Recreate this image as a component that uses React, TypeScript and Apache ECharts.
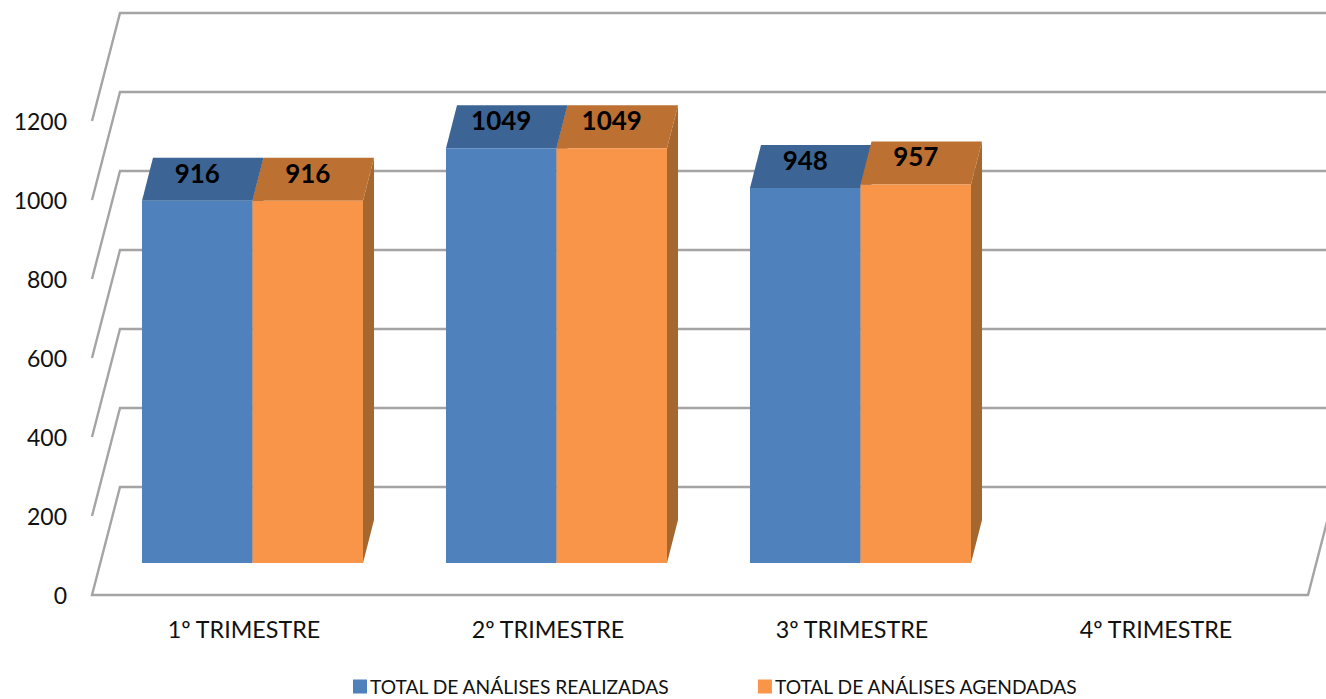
import React, { useEffect, useRef } from "react";
import * as echarts from "echarts";

const categories = ["1º TRIMESTRE", "2º TRIMESTRE", "3º TRIMESTRE", "4º TRIMESTRE"];
const realizadas = [916, 1049, 948, null];
const agendadas = [916, 1049, 957, null];
const wallTicks = [0, 200, 400, 600, 800, 1000, 1200];
const FONT = "Lato";

const DEPTH_X = 28, DEPTH_Y = 108;
const BAR_SHIFT_X = 8.5, BAR_SHIFT_Y = 32;
const BAR_W = 110.5, TOP_X = 11, TOP_Y = 43;

function renderWall(params: any, api: any) {
  const v = api.value(1);
  const cs = params.coordSys;
  const y = api.coord([0, v])[1];
  const left = cs.x, right = cs.x + cs.width;
  const points = v === 0
    ? [[right + DEPTH_X, y - DEPTH_Y], [left + DEPTH_X, y - DEPTH_Y], [left, y], [right, y], [right + DEPTH_X, y - DEPTH_Y]]
    : [[right + DEPTH_X, y - DEPTH_Y], [left + DEPTH_X, y - DEPTH_Y], [left, y]];
  return {
    type: "polyline",
    shape: { points },
    style: { stroke: "#A4A4A4", lineWidth: 2.4, fill: "none" },
  };
}

function makeBar(offset: number, front: string, top: string, side: string) {
  return (params: any, api: any) => {
    const v = api.value(1);
    if (v == null || isNaN(v)) return null;
    const [cx, yt] = api.coord([api.value(0), v]);
    const [, yb] = api.coord([api.value(0), 0]);
    const x0 = cx + BAR_SHIFT_X + offset * BAR_W;
    const x1 = x0 + BAR_W;
    const t = yt - BAR_SHIFT_Y - 0.5;
    const b = yb - BAR_SHIFT_Y;
    return {
      type: "group",
      children: [
        { type: "polygon", shape: { points: [[x1, t], [x1 + TOP_X, t - TOP_Y], [x1 + TOP_X, b - TOP_Y], [x1, b]] }, style: { fill: side } },
        { type: "polygon", shape: { points: [[x0, t], [x0 + TOP_X, t - TOP_Y], [x1 + TOP_X, t - TOP_Y], [x1, t]] }, style: { fill: top } },
        { type: "rect", shape: { x: x0, y: t, width: BAR_W, height: b - t }, style: { fill: front } },
        {
          type: "text",
          style: {
            text: String(v), x: (x0 + x1) / 2, y: t - 28, align: "center", verticalAlign: "middle",
            fill: "#000", fontFamily: FONT, fontWeight: "bold", fontSize: 26,
          },
        },
      ],
    };
  };
}

const toData = (values: (number | null)[]) => values.map((v, i) => [i, v]);

export default function App() {
  const ref = useRef<HTMLDivElement>(null);
  useEffect(() => {
    const chart = echarts.init(ref.current!, undefined, { renderer: "svg" });
    chart.setOption({
      animation: false,
      backgroundColor: "#fff",
      textStyle: { fontFamily: FONT },
      grid: { left: 92, top: 121, width: 1216, height: 474, containLabel: false },
      xAxis: {
        type: "category",
        data: categories,
        axisLine: { show: false },
        axisTick: { show: false },
        axisLabel: { color: "#111", fontSize: 23.3, fontFamily: FONT, margin: 22 },
      },
      yAxis: {
        type: "value",
        min: 0,
        max: 1200,
        interval: 200,
        axisLine: { show: false },
        axisTick: { show: false },
        splitLine: { show: false },
        axisLabel: { color: "#111", fontSize: 23, fontFamily: FONT, margin: 25, formatter: (v: number) => String(v) },
      },
      legend: {
        data: ["TOTAL DE ANÁLISES REALIZADAS", "TOTAL DE ANÁLISES AGENDADAS"],
        left: 348,
        top: 672,
        itemWidth: 14,
        itemHeight: 14,
        itemGap: 88,
        icon: "rect",
        textStyle: { color: "#111", fontSize: 19.2, fontFamily: FONT, padding: [0, 0, 0, -2] },
      },
      series: [
        {
          type: "custom",
          name: "walls",
          silent: true,
          renderItem: renderWall,
          encode: { x: 0, y: 1 },
          data: wallTicks.map((t) => [0, t]),
        },
        {
          type: "custom",
          name: "TOTAL DE ANÁLISES REALIZADAS",
          renderItem: makeBar(-1, "#4F81BD", "#3C6595", "#2F5585"),
          encode: { x: 0, y: 1 },
          itemStyle: { color: "#4F81BD" },
          data: toData(realizadas),
        },
        {
          type: "custom",
          name: "TOTAL DE ANÁLISES AGENDADAS",
          renderItem: makeBar(0, "#F99548", "#BC7031", "#A5672E"),
          encode: { x: 0, y: 1 },
          itemStyle: { color: "#F99548" },
          data: toData(agendadas),
        },
      ],
    });
    return () => chart.dispose();
  }, []);
  return <div ref={ref} style={{ position: "absolute", left: 0, top: 0, width: 1326, height: 699 }} />;
}
